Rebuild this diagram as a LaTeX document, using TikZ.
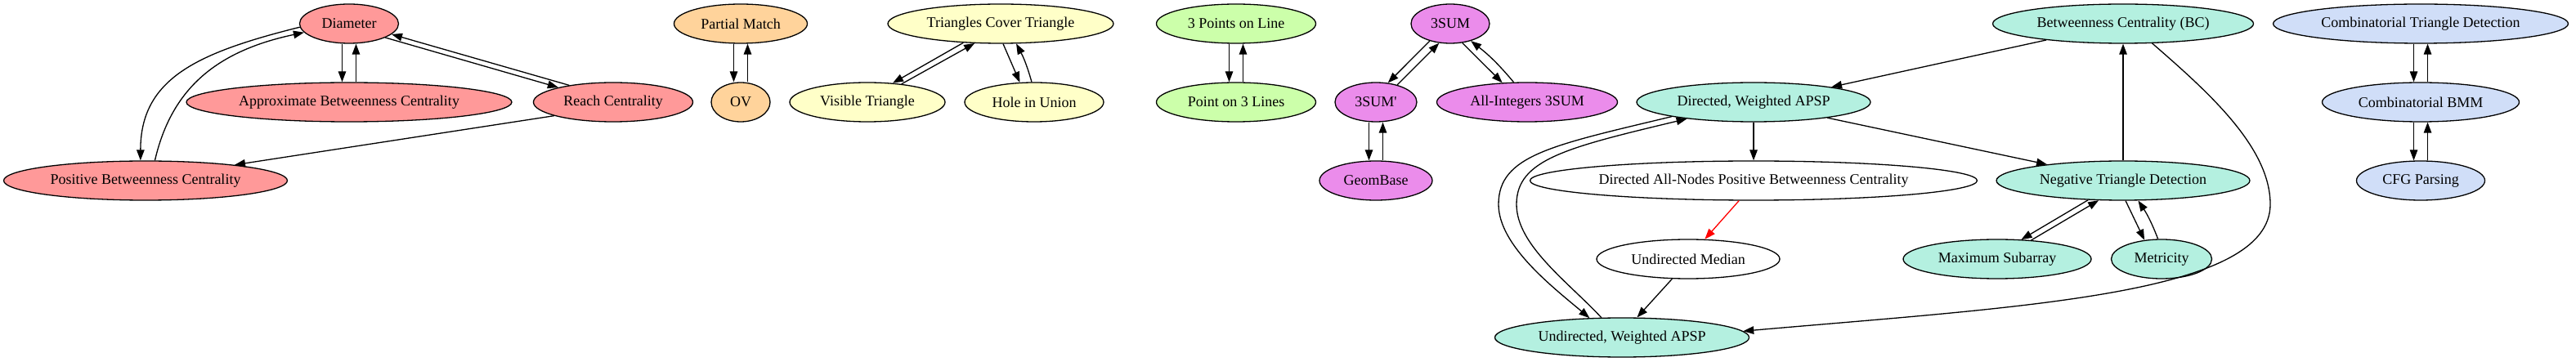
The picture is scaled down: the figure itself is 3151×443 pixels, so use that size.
\documentclass[tikz,border=0pt]{standalone}
\usepackage{fontspec}
\setmainfont{Liberation Serif}
\usepackage{tikz}
\usetikzlibrary{shapes.geometric, arrows.meta}
\definecolor{diamred}{RGB}{255,153,153}
\definecolor{ovorange}{RGB}{255,211,155}
\definecolor{geomyellow}{RGB}{255,255,200}
\definecolor{linegreen}{RGB}{204,255,170}
\definecolor{sumviolet}{RGB}{235,140,235}
\definecolor{apspteal}{RGB}{180,240,224}
\definecolor{bmmblue}{RGB}{208,222,248}

\begin{document}
\begin{tikzpicture}[x=1pt, y=1pt,
    prob/.style={ellipse, draw, line width=1.3pt, inner sep=0pt, minimum height=48pt, font=\fontsize{18}{21}\selectfont},
    link/.style={-{Triangle[length=13pt,width=9.5pt]}, line width=1.3pt}]
    \useasboundingbox (0,0) rectangle (3151,-443);

    % Diameter group
    \node[prob, fill=diamred, minimum width=121pt] (diam) at (427,-29) {Diameter};
    \node[prob, fill=diamred, minimum width=398pt] (approxbc) at (427,-125) {Approximate Betweenness Centrality};
    \node[prob, fill=diamred, minimum width=195pt] (reach) at (750,-125) {Reach Centrality};
    \node[prob, fill=diamred, minimum width=347pt] (posbc) at (178,-221) {Positive Betweenness Centrality};

    \draw[link] ([xshift=-8.5pt]diam.south) -- ([xshift=-8.5pt]approxbc.north);
    \draw[link] ([xshift=8.5pt]approxbc.north) -- ([xshift=8.5pt]diam.south);
    \draw[link] (diam.-21) -- (reach.165);
    \draw[link] (reach.159) -- (diam.-14);
    \draw[link] (reach.193) -- (posbc.10);
    \draw[link] (diam.184) .. controls +(194:130) and +(90:100) .. (posbc.104);
    \draw[link] (posbc.65) .. controls +(77:90) and +(192:110) .. (diam.191);

    % OV group
    \node[prob, fill=ovorange, minimum width=163pt] (pmatch) at (906,-29) {Partial Match};
    \node[prob, fill=ovorange, minimum width=72pt] (ov) at (906,-125) {OV};

    \draw[link] ([xshift=-8.5pt]pmatch.south) -- ([xshift=-8.5pt]ov.north);
    \draw[link] ([xshift=8.5pt]ov.north) -- ([xshift=8.5pt]pmatch.south);

    % Triangle geometry
    \node[prob, fill=geomyellow, minimum width=276pt] (tricover) at (1224,-29) {Triangles Cover Triangle};
    \node[prob, fill=geomyellow, minimum width=190pt] (visible) at (1061,-125) {Visible Triangle};
    \node[prob, fill=geomyellow, minimum width=170pt] (hole) at (1265,-125) {Hole in Union};

    \draw[link] (tricover.207) -- (visible.37);
    \draw[link] (visible.28) -- (tricover.217);
    \draw[link] (tricover.277) -- (hole.126);
    \draw[link] (hole.97) to[bend right=6] (tricover.308);

    % Points and lines
    \node[prob, fill=linegreen, minimum width=195pt] (threepts) at (1512,-29) {3 Points on Line};
    \node[prob, fill=linegreen, minimum width=195pt] (ptlines) at (1512,-125) {Point on 3 Lines};

    \draw[link] ([xshift=-8.5pt]threepts.south) -- ([xshift=-8.5pt]ptlines.north);
    \draw[link] ([xshift=8.5pt]ptlines.north) -- ([xshift=8.5pt]threepts.south);

    % 3SUM group
    \node[prob, fill=sumviolet, minimum width=96pt] (tsum) at (1774,-29) {3SUM};
    \node[prob, fill=sumviolet, minimum width=100pt] (tsumprime) at (1683,-125) {3SUM\textquotesingle};
    \node[prob, fill=sumviolet, minimum width=221pt] (allint) at (1868,-125) {All-Integers 3SUM};
    \node[prob, fill=sumviolet, minimum width=138pt] (geombase) at (1683,-221) {GeomBase};

    \draw[link] (tsum.220) -- (tsumprime.58);
    \draw[link] (tsumprime.39) -- (tsum.240);
    \draw[link] (tsum.302) -- (allint.142);
    \draw[link] (allint.124) to[bend right=6] (tsum.320);
    \draw[link] ([xshift=-8.5pt]tsumprime.south) -- ([xshift=-8.5pt]geombase.north);
    \draw[link] ([xshift=8.5pt]geombase.north) -- ([xshift=8.5pt]tsumprime.south);

    % APSP group
    \node[prob, fill=apspteal, minimum width=319pt] (bc) at (2597,-29) {Betweenness Centrality (BC)};
    \node[prob, fill=apspteal, minimum width=286pt] (dapsp) at (2145,-125) {Directed, Weighted APSP};
    \node[prob, fill=white, minimum width=547pt] (dallpbc) at (2145,-221) {Directed All-Nodes Positive Betweenness Centrality};
    \node[prob, fill=apspteal, minimum width=310pt] (negtri) at (2597,-221) {Negative Triangle Detection};
    \node[prob, fill=white, minimum width=224pt] (umedian) at (2065,-317) {Undirected Median};
    \node[prob, fill=apspteal, minimum width=230pt] (maxsub) at (2443,-317) {Maximum Subarray};
    \node[prob, fill=apspteal, minimum width=123pt] (metric) at (2644,-317) {Metricity};
    \node[prob, fill=apspteal, minimum width=311pt] (uapsp) at (1984,-413) {Undirected, Weighted APSP};

    \draw[link] (bc.192) -- (dapsp.11);
    \draw[link] (dapsp.south) -- (dallpbc.north);
    \draw[link] (dapsp.348) -- (negtri.168);
    \draw[link] (negtri.north) -- (bc.south);
    \draw[link] (negtri.209) -- (maxsub.39);
    \draw[link] (maxsub.29) -- (negtri.219);
    \draw[link] (negtri.277) -- (metric.132);
    \draw[link] (metric.100) to[bend right=6] (negtri.307);
    \draw[link, red] (dallpbc.234) -- (umedian.50);
    \draw[link] (umedian.231) -- (uapsp.53);
    \draw[link] (dapsp.190) .. controls +(193.5:150) and +(0,60) .. (1833,-250)
        .. controls +(0,-50) and +(140:60) .. (uapsp.149);
    \draw[link] (uapsp.136) .. controls +(133:60) and +(0,-50) .. (1855,-250)
        .. controls +(0,55) and +(193.5:150) .. (dapsp.194);
    \draw[link] (bc.326) .. controls +(319:90) and +(0,70) .. (2777,-250)
        .. controls +(0,-110) and +(5:350) .. (uapsp.3);

    % BMM group
    \node[prob, fill=bmmblue, minimum width=361pt] (ctd) at (2961,-29) {Combinatorial Triangle Detection};
    \node[prob, fill=bmmblue, minimum width=241pt] (cbmm) at (2961,-125) {Combinatorial BMM};
    \node[prob, fill=bmmblue, minimum width=157pt] (cfg) at (2961,-221) {CFG Parsing};

    \draw[link] ([xshift=-8.5pt]ctd.south) -- ([xshift=-8.5pt]cbmm.north);
    \draw[link] ([xshift=8.5pt]cbmm.north) -- ([xshift=8.5pt]ctd.south);
    \draw[link] ([xshift=-8.5pt]cbmm.south) -- ([xshift=-8.5pt]cfg.north);
    \draw[link] ([xshift=8.5pt]cfg.north) -- ([xshift=8.5pt]cbmm.south);
\end{tikzpicture}
\end{document}
